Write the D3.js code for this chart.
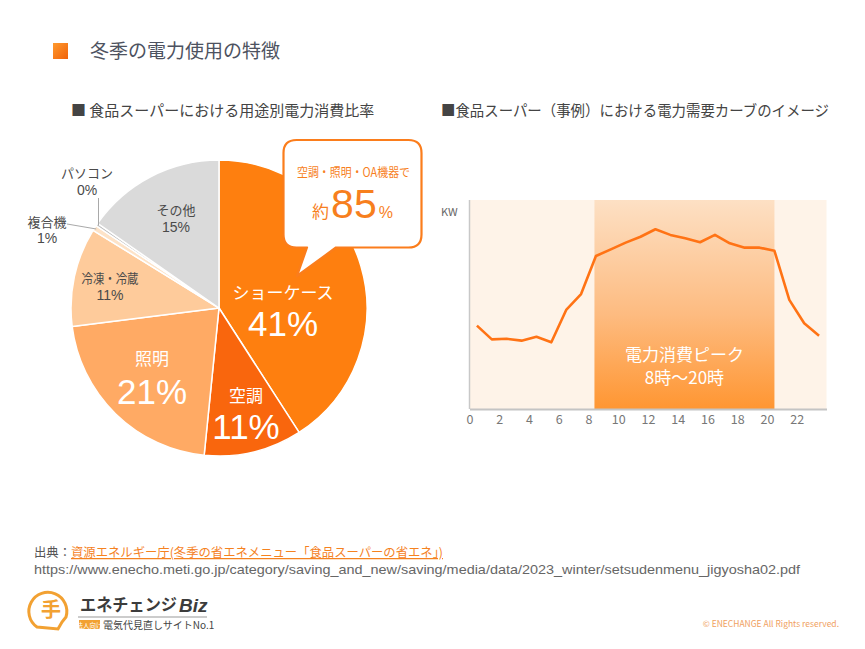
<!DOCTYPE html>
<html><head><meta charset="utf-8">
<script src="https://cdn.jsdelivr.net/npm/d3@7"></script>
<style>
html,body{margin:0;padding:0;background:#fff;}
svg{display:block;font-family:"Noto Sans CJK JP","Noto Sans",sans-serif;}
</style></head>
<body>
<svg id="c" width="865" height="649"></svg>
<script>
// ---------- data ----------
const pieCategories = ["ショーケース","空調","照明","冷凍・冷蔵","複合機","パソコン","その他"];
const pieValues = [40.9, 10.7, 21.4, 10.8, 0.6, 0.3, 15.3];
const pieColors = ["#fe7f0f","#f9660d","#ffaa64","#fecb9b","#fde3c8","#bdbdbd","#dadada"];

const hours = [0,1,2,3,4,5,6,7,8,9,10,11,12,13,14,15,16,17,18,19,20,21,22,23];
const demand = [39.9,33.3,33.6,32.7,34.6,31.9,47.4,55.0,73.2,76.4,79.6,82.4,86.0,83.3,81.7,79.8,83.3,79.3,77.2,77.2,75.7,52.2,41.0,35.1];
const xTickValues = [0,2,4,6,8,10,12,14,16,18,20,22];
const peakRange = [8.4, 20.5];

const svg = d3.select("#c");
const FONT = '"Noto Sans CJK JP","Noto Sans",sans-serif';
const NUMFONT = '"Liberation Sans",Arial,sans-serif';

// ---------- header ----------
const defs = svg.append("defs");
const sq = defs.append("linearGradient").attr("id","sq").attr("x1",0).attr("y1",0).attr("x2",1).attr("y2",1);
sq.append("stop").attr("offset","0%").attr("stop-color","#ff9a2e");
sq.append("stop").attr("offset","100%").attr("stop-color","#f0620a");
svg.append("rect").attr("x",53).attr("y",43).attr("width",15).attr("height",16).attr("fill","url(#sq)");
svg.append("text").attr("x",90).attr("y",58).attr("font-size",19).attr("fill","#4d5260").text("冬季の電力使用の特徴");

svg.append("text").attr("x",71).attr("y",115.5).attr("font-size",15).attr("fill","#444")
  .text("■ 食品スーパーにおける用途別電力消費比率");
svg.append("text").attr("x",441).attr("y",115.5).attr("font-size",15).attr("fill","#444")
  .attr("textLength",388).attr("lengthAdjust","spacingAndGlyphs")
  .text("■食品スーパー（事例）における電力需要カーブのイメージ");

// ---------- pie ----------
const cx = 219, cy = 308, R = 148;
const pieG = svg.append("g").attr("transform",`translate(${cx},${cy})`);
const arcs = d3.pie().sort(null).value(d=>d)(pieValues);
const arcGen = d3.arc().innerRadius(0).outerRadius(R);
pieG.selectAll("path.slice").data(arcs).join("path").attr("class","slice")
  .attr("d",arcGen).attr("fill",(d,i)=>pieColors[i])
  .attr("stroke","#fff").attr("stroke-width",1.5).attr("stroke-linejoin","round");

// label layout (offsets relative to pie centre)
const labelLayout = [
  {dx:64, ny:-17, py:15, big:true},
  {dx:27, ny:86, py:118, big:true},
  {dx:-67, ny:49, py:83, big:true},
  {dx:-109, ny:-31, py:-13, big:false, w:57},
  {dx:-172, ny:-87, py:-70, big:false, lead:[-152,-84]},
  {dx:-132, ny:-136, py:-118, big:false, lead:[-124,-110]},
  {dx:-43, ny:-99, py:-81, big:false}
];
// leader lines
arcs.forEach((a,i)=>{
  const L = labelLayout[i];
  if(!L.lead) return;
  const mid = (a.startAngle+a.endAngle)/2;
  const px = Math.sin(mid)*(R-2), py = -Math.cos(mid)*(R-2);
  let pts;
  if(i===5) pts = [[px,py],[px,L.lead[1]]];
  else pts = [[px,py],[L.lead[0],L.lead[1]]];
  pieG.append("path").attr("d",d3.line()(pts)).attr("stroke","#a9a9a9").attr("stroke-width",1).attr("fill","none");
});
arcs.forEach((a,i)=>{
  const L = labelLayout[i];
  const col = L.big ? "#fff" : "#4a4a4a";
  const nt = pieG.append("text").attr("x",L.dx).attr("y",L.ny).attr("text-anchor","middle").attr("dominant-baseline","central")
    .attr("font-size",L.big?17:13).attr("fill",col).text(pieCategories[i]);
  if(L.w) nt.attr("textLength",L.w).attr("lengthAdjust","spacingAndGlyphs");
  pieG.append("text").attr("x",L.dx).attr("y",L.py).attr("text-anchor","middle").attr("dominant-baseline","central")
    .attr("font-family",NUMFONT)
    .attr("font-size",L.big?35:14).attr("fill",col).text(Math.round(pieValues[i])+"%");
});

// callout bubble
const bx0=283.5, by0=140, bx1=421.5, by1=247.5, rr=13;
const tail = [[336,by1],[297,276],[307,by1]];
const bubblePath = `M${bx0+rr},${by0} H${bx1-rr} Q${bx1},${by0} ${bx1},${by0+rr} V${by1-rr} Q${bx1},${by1} ${bx1-rr},${by1}`
  + ` H${tail[0][0]} L${tail[1][0]},${tail[1][1]} L${tail[2][0]},${tail[2][1]}`
  + ` H${bx0+rr} Q${bx0},${by1} ${bx0},${by1-rr} V${by0+rr} Q${bx0},${by0} ${bx0+rr},${by0} Z`;
svg.append("path").attr("d",bubblePath).attr("fill","#fff").attr("stroke","#fb7d1c").attr("stroke-width",2.2).attr("stroke-linejoin","round");
svg.append("text").attr("x",353.5).attr("y",177).attr("text-anchor","middle").attr("font-size",12.5).attr("fill","#f77f1e")
  .attr("textLength",113).attr("lengthAdjust","spacingAndGlyphs")
  .text("空調・照明・OA機器で");
const t85 = svg.append("text").attr("x",352.5).attr("y",218).attr("text-anchor","middle").attr("fill","#f77f1e");
t85.append("tspan").attr("font-size",17).text("約");
t85.append("tspan").attr("font-size",41).attr("font-family",NUMFONT).attr("dx",2).text("85");
t85.append("tspan").attr("font-size",16).attr("font-family",NUMFONT).attr("dx",2).text("%");

// ---------- line chart ----------
const x = d3.scaleLinear().domain([0,24]).range([469.5,826.5]);
const y = d3.scaleLinear().domain([0,100]).range([409,200]);
svg.append("rect").attr("x",x(0)).attr("y",y(100)).attr("width",x(24)-x(0)).attr("height",y(0)-y(100)).attr("fill","#fef3e8");
const pg = defs.append("linearGradient").attr("id","pk").attr("x1",0).attr("y1",0).attr("x2",0).attr("y2",1);
pg.append("stop").attr("offset","0%").attr("stop-color","#fde0c4");
pg.append("stop").attr("offset","55%").attr("stop-color","#fdbb80");
pg.append("stop").attr("offset","100%").attr("stop-color","#ff9632");
svg.append("rect").attr("x",x(peakRange[0])).attr("y",y(100)).attr("width",x(peakRange[1])-x(peakRange[0]))
  .attr("height",y(0)-y(100)).attr("fill","url(#pk)");

const ax = svg.append("g").attr("transform",`translate(0,${y(0)})`)
  .call(d3.axisBottom(x).tickValues(xTickValues).tickSize(0).tickPadding(6).tickFormat(d3.format("d")));
ax.select(".domain").attr("stroke","#c4c4c4").attr("stroke-width",2);
ax.selectAll("text").attr("font-size",12.5).attr("fill","#777").attr("font-family",FONT);
svg.append("line").attr("x1",x(0)).attr("x2",x(0)).attr("y1",y(100)).attr("y2",y(0)).attr("stroke","#c8c8c8").attr("stroke-width",1.5);
svg.append("text").attr("x",441).attr("y",216).attr("font-size",11).attr("fill","#666").text("KW");

svg.append("path").datum(hours)
  .attr("d",d3.line().x(h=>x(h+0.5)).y((h,i)=>y(demand[i])))
  .attr("fill","none").attr("stroke","#ff7315").attr("stroke-width",2.6).attr("stroke-linejoin","round");

const pcx = (x(peakRange[0])+x(peakRange[1]))/2;
svg.append("text").attr("x",pcx).attr("y",361).attr("text-anchor","middle").attr("font-size",17).attr("fill","#fff").text("電力消費ピーク");
svg.append("text").attr("x",pcx).attr("y",384).attr("text-anchor","middle").attr("font-size",17).attr("fill","#fff").text("8時〜20時");

// ---------- footer ----------
const src = svg.append("text").attr("x",34).attr("y",557).attr("font-size",12.5)
  .attr("textLength",409).attr("lengthAdjust","spacingAndGlyphs");
src.append("tspan").attr("fill","#555").text("出典：");
src.append("tspan").attr("fill","#f5821f").attr("text-decoration","underline").text("資源エネルギー庁(冬季の省エネメニュー「食品スーパーの省エネ」)");
svg.append("text").attr("x",34).attr("y",574).attr("font-size",13).attr("fill","#666").attr("font-family",NUMFONT)
  .attr("textLength",766).attr("lengthAdjust","spacingAndGlyphs")
  .text("https://www.enecho.meti.go.jp/category/saving_and_new/saving/media/data/2023_winter/setsudenmenu_jigyosha02.pdf");

// logo
const lg = svg.append("g");
lg.append("path").attr("d","M37,627 A19,19 0 1 1 66,617 L62,622 L58,629 Z").attr("fill","#fff").attr("stroke","#f2a132").attr("stroke-width",3);
lg.append("text").attr("x",51).attr("y",617).attr("text-anchor","middle").attr("font-size",20).attr("fill","#f2a132").attr("font-weight","bold").text("手");
lg.append("text").attr("x",80).attr("y",611).attr("font-size",16.5).attr("fill","#3c3c3c").attr("font-weight","bold")
  .attr("textLength",97).attr("lengthAdjust","spacingAndGlyphs").text("エネチェンジ");
lg.append("text").attr("x",179).attr("y",612).attr("font-size",19).attr("fill","#3c3c3c").attr("font-weight","bold").attr("font-style","italic").attr("font-family","Liberation Sans").text("Biz");
lg.append("line").attr("x1",78).attr("x2",207).attr("y1",617).attr("y2",617).attr("stroke","#999").attr("stroke-width",1);
lg.append("rect").attr("x",79).attr("y",620).attr("width",21).attr("height",9).attr("fill","#f2a132");
lg.append("text").attr("x",89.5).attr("y",627.5).attr("text-anchor","middle").attr("font-size",6.5).attr("fill","#fff").text("法人向け");
lg.append("text").attr("x",103).attr("y",629).attr("font-size",10).attr("fill","#444").text("電気代見直しサイトNo.1");

svg.append("text").attr("x",839).attr("y",627).attr("text-anchor","end").attr("font-size",8.5).attr("fill","#f0a060").text("© ENECHANGE All Rights reserved.");
</script>
</body></html>
